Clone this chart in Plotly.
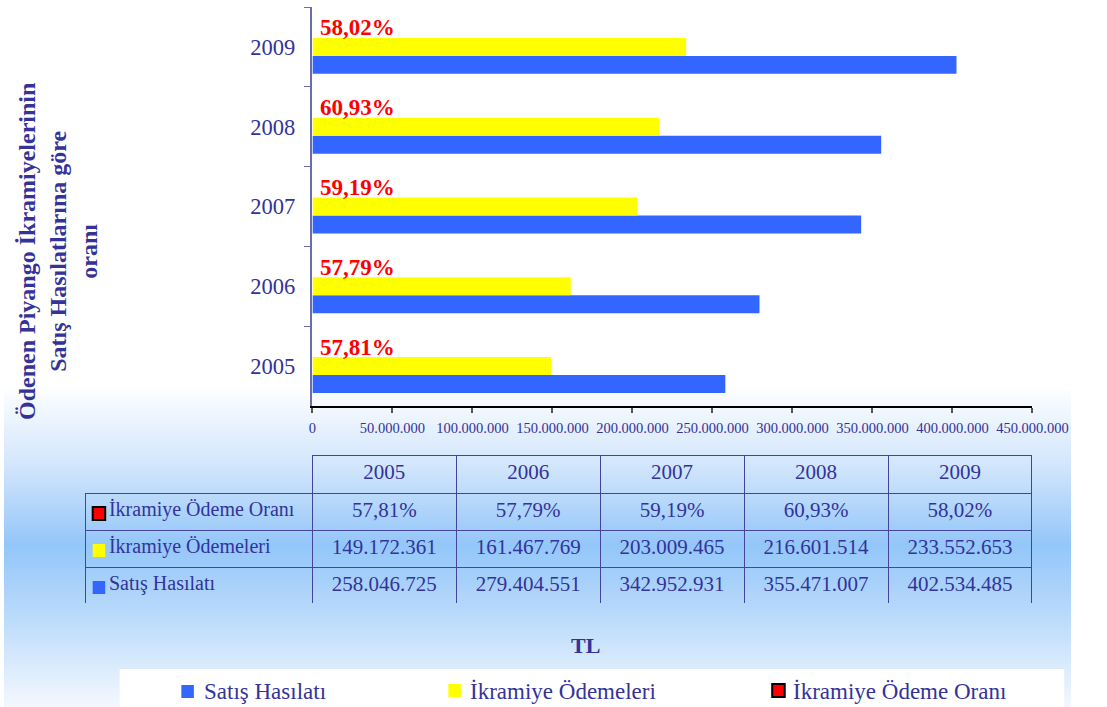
import plotly.graph_objects as go

# ---- data ----
years = ["2005", "2006", "2007", "2008", "2009"]
satis_hasilati = [258046725, 279404551, 342952931, 355471007, 402534485]
ikramiye_odemeleri = [149172361, 161467769, 203009465, 216601514, 233552653]
odeme_orani = [57.81, 57.79, 59.19, 60.93, 58.02]
x_ticks = [0, 50e6, 100e6, 150e6, 200e6, 250e6, 300e6, 350e6, 400e6, 450e6]
row_labels = ["İkramiye Ödeme Oranı", "İkramiye Ödemeleri", "Satış Hasılatı"]

FW, H = 1107, 707
FONT = "Liberation Serif"
TXT = "#333399"
BLUE = "#3366ff"
YEL = "#ffff00"
RED = "#ff0000"


def px(t):
    return min(1.0, max(0.0, t / FW))


def py(y):
    return 1 - y / H


def fmt_int(v):
    return f"{v:,}".replace(",", ".")


def fmt_pct(v):
    return f"{v:.2f}".replace(".", ",") + "%"


fig = go.Figure()

fig.add_trace(go.Bar(y=years, x=satis_hasilati, orientation="h", name="Satış Hasılatı",
                     offset=-0.3375, width=0.225,
                     marker=dict(color=BLUE, line=dict(width=0)), showlegend=False))
fig.add_trace(go.Bar(y=years, x=ikramiye_odemeleri, orientation="h", name="İkramiye Ödemeleri",
                     offset=-0.1125, width=0.225,
                     marker=dict(color=YEL, line=dict(width=0)), showlegend=False))

# table
header_vals = [""] + years
cell_vals = [["\u00a0\u00a0\u00a0" + s for s in row_labels]]
for i in range(len(years)):
    cell_vals.append([fmt_pct(odeme_orani[i]), fmt_int(ikramiye_odemeleri[i]), fmt_int(satis_hasilati[i])])

LINE = "#4444a0"
fig.add_trace(go.Table(
    domain=dict(x=[px(85), px(1067)], y=[py(603), py(455)]),
    columnwidth=[235] + [149.4] * 5,
    header=dict(values=header_vals, height=38,
                fill=dict(color="rgba(0,0,0,0)"),
                line=dict(color=["rgba(0,0,0,0)"] + [LINE] * 5, width=1),
                font=dict(family=FONT, size=21, color=TXT), align="center"),
    cells=dict(values=cell_vals, height=37,
               fill=dict(color="rgba(0,0,0,0)"),
               line=dict(color=LINE, width=1),
               font=dict(family=FONT, size=[20] + [21] * 5, color=TXT),
               align=["left"] + ["center"] * 5),
))

shapes = []
# background gradient (paper)
stops = [(0, (255, 255, 255)), (385, (255, 255, 255)), (470, (207, 228, 252)),
         (545, (147, 198, 249)), (620, (188, 220, 251)), (707, (244, 248, 254))]


def col_at(y):
    for (y0, c0), (y1, c1) in zip(stops[:-1], stops[1:]):
        if y0 <= y <= y1:
            t = (y - y0) / (y1 - y0) if y1 > y0 else 0
            return tuple(round(a + (b - a) * t) for a, b in zip(c0, c1))
    return stops[-1][1]


step = 3
y = 370
while y < H:
    c = col_at(y + step / 2)
    shapes.append(dict(type="rect", xref="paper", yref="paper", x0=0, x1=1,
                       y0=max(0, py(y + step + 0.5)), y1=py(y), fillcolor=f"rgb{c}",
                       line=dict(width=0), layer="below"))
    y += step

# legend box
shapes.append(dict(type="rect", xref="paper", yref="paper", x0=px(120), x1=px(1100),
                   y0=0, y1=py(669), fillcolor="white", line=dict(width=0), layer="below"))


def square(x0, y0, color, border=None, layer="above"):
    shapes.append(dict(type="rect", xref="paper", yref="paper", x0=px(x0), x1=px(x0 + 13),
                       y0=py(y0 + 13), y1=py(y0), fillcolor=color,
                       line=dict(width=2 if border else 0, color=border or color), layer=layer))


# legend icons
square(184, 685, BLUE)
square(461, 684, YEL)
square(797, 684, RED, border="black")
# table icons
square(92, 507, RED, border="black")
square(92, 544, YEL)
square(92, 581, BLUE)

annotations = []
for i, v in enumerate(odeme_orani):
    annotations.append(dict(x=0, y=i, xref="x", yref="y", text=f"<b>{fmt_pct(v)}</b>",
                            showarrow=False, xanchor="left", yanchor="middle", xshift=6, yshift=19,
                            font=dict(family=FONT, size=23, color=RED)))

annotations.append(dict(x=px(56), y=py(251), xref="paper", yref="paper",
                        text="<b>Ödenen Piyango İkramiyelerinin<br>Satış Hasılatlarına göre<br>oranı</b>",
                        textangle=-90, showarrow=False, xanchor="center", yanchor="middle",
                        font=dict(family=FONT, size=24, color=TXT)))
annotations.append(dict(x=px(603), y=py(645), xref="paper", yref="paper", text="<b>TL</b>",
                        showarrow=False, xanchor="center", yanchor="middle",
                        font=dict(family=FONT, size=22, color=TXT)))
for tx, label in [(205, row_labels[2]), (481, row_labels[1]), (816, row_labels[0])]:
    annotations.append(dict(x=px(tx), y=py(691), xref="paper", yref="paper", text=label,
                            showarrow=False, xanchor="left", yanchor="middle",
                            font=dict(family=FONT, size=23, color=TXT)))

fig.update_layout(
    width=FW, height=H, autosize=False, margin=dict(l=0, r=0, t=0, b=0),
    paper_bgcolor="white", plot_bgcolor="white",
    barmode="group", bargap=0.55, bargroupgap=0,
    separators=",.",
    showlegend=False,
    shapes=shapes, annotations=annotations,
    xaxis=dict(domain=[px(320), px(1067)], range=[0, 450e6], tickvals=x_ticks,
               tickformat=",d", showgrid=False, zeroline=False,
               showline=True, linecolor="black", linewidth=1.5,
               ticks="outside", ticklen=5, tickcolor="#555555", tickwidth=1.5,
               tickfont=dict(family=FONT, size=14.5, color=TXT), ticklabelstandoff=3),
    yaxis=dict(domain=[py(406), py(7)], type="category", range=[-0.5, 4.5], autorange=False,
               showgrid=False, zeroline=False,
               showline=True, linecolor="#6b6bb0", linewidth=1.5,
               ticks="outside", ticklen=7, tickcolor="#6b6bb0", tickson="boundaries",
               tickfont=dict(family=FONT, size=22.5, color=TXT), ticklabelstandoff=11),
    font=dict(family=FONT, color=TXT),
)

post = (
    "var h=document.documentElement,b=document.body;"
    "[h,b].forEach(function(e){e.style.margin='0';e.style.padding='0';e.style.overflow='hidden';});"
)

fig.write_html(
    "out.html",
    config={"responsive": False, "displayModeBar": False},
    post_script=post,
)
